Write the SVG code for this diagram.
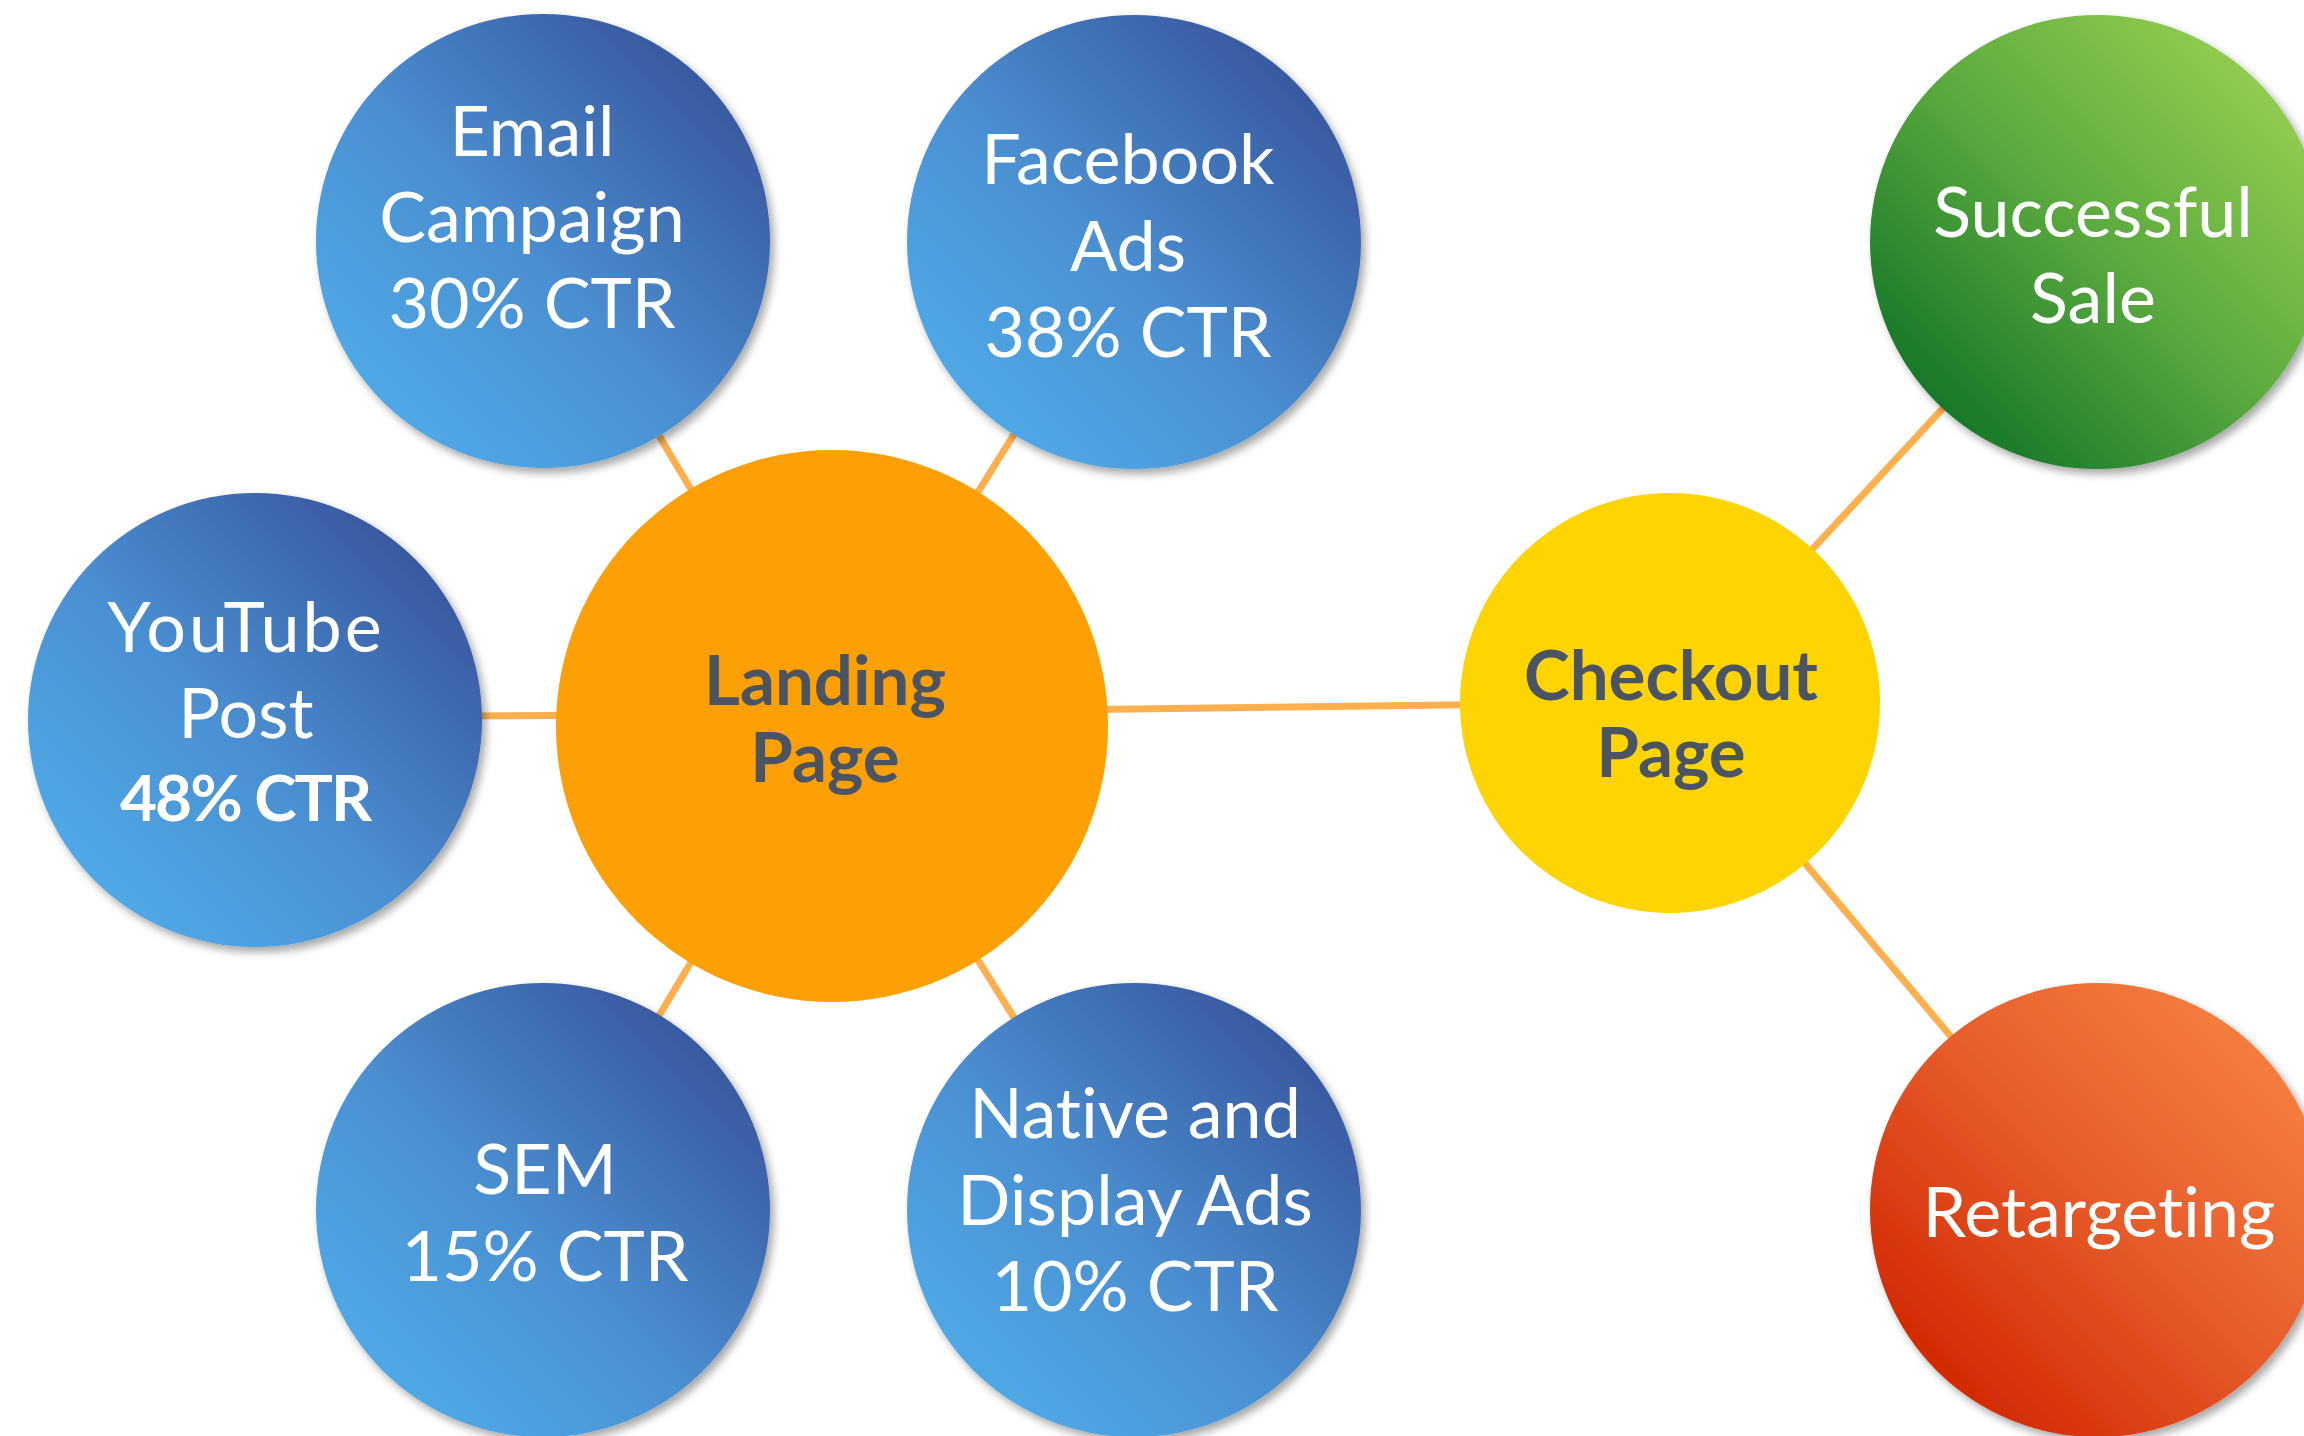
<svg xmlns="http://www.w3.org/2000/svg" width="2304" height="1436" viewBox="0 0 2304 1436">
  <style>
    text { font-variant-ligatures: none; }
    .lbl { font-family: Lato, "Liberation Sans", sans-serif; font-size: 70px; fill: #ffffff; text-anchor: middle; }
    .strong { font-weight: bold; font-size: 64px; letter-spacing: -2px; }
    .wide { letter-spacing: 3px; }
    .hub { font-family: Lato, "Liberation Sans", sans-serif; font-size: 69px; font-weight: bold; fill: #4a5462; text-anchor: middle; }
    .link { stroke: #ffb04e; stroke-width: 7; fill: none; }
  </style>
  <defs>
    <linearGradient id="gBlue" x1="0.15" y1="0.85" x2="0.85" y2="0.15">
      <stop offset="0" stop-color="#50a8e6"/>
      <stop offset="0.45" stop-color="#4a8fd1"/>
      <stop offset="1" stop-color="#395aa1"/>
    </linearGradient>
    <linearGradient id="gGreen" x1="0.15" y1="0.85" x2="0.85" y2="0.15">
      <stop offset="0" stop-color="#18792a"/>
      <stop offset="0.5" stop-color="#5aa93e"/>
      <stop offset="1" stop-color="#8fcb4f"/>
    </linearGradient>
    <linearGradient id="gRed" x1="0.15" y1="0.85" x2="0.85" y2="0.15">
      <stop offset="0" stop-color="#d32a04"/>
      <stop offset="0.5" stop-color="#e65a2a"/>
      <stop offset="1" stop-color="#f47c3e"/>
    </linearGradient>
    <filter id="shadow" x="-10%" y="-10%" width="125%" height="125%">
      <feDropShadow dx="4" dy="5" stdDeviation="4" flood-color="#000000" flood-opacity="0.35"/>
    </filter>
  </defs>

  <rect width="2304" height="1436" fill="#ffffff"/>

  <!-- connectors -->
  <g id="connectors">
    <line class="link" x1="543" y1="241" x2="832" y2="726"/>
    <line class="link" x1="1134" y1="242" x2="832" y2="726"/>
    <line class="link" x1="255" y1="717" x2="832" y2="714"/>
    <line class="link" x1="543" y1="1210" x2="832" y2="726"/>
    <line class="link" x1="1134" y1="1210" x2="832" y2="726"/>
    <line class="link" x1="832" y1="713" x2="1670" y2="702"/>
    <line class="link" x1="1670" y1="703" x2="2097" y2="242"/>
    <line class="link" x1="1670" y1="703" x2="2097" y2="1210"/>
  </g>

  <!-- source channels -->
  <g id="email">
    <circle cx="543" cy="241" r="227" fill="url(#gBlue)" filter="url(#shadow)"/>
    <text class="lbl" x="532" y="156">Email</text>
    <text class="lbl" x="532" y="242">Campaign</text>
    <text class="lbl" x="532" y="328">30% CTR</text>
  </g>
  <g id="facebook">
    <circle cx="1134" cy="242" r="227" fill="url(#gBlue)" filter="url(#shadow)"/>
    <text class="lbl" x="1128" y="184">Facebook</text>
    <text class="lbl" x="1128" y="271">Ads</text>
    <text class="lbl" x="1128" y="357">38% CTR</text>
  </g>
  <g id="youtube">
    <circle cx="255" cy="720" r="227" fill="url(#gBlue)" filter="url(#shadow)"/>
    <text class="lbl wide" x="246" y="652">YouTube</text>
    <text class="lbl" x="246" y="738">Post</text>
    <text class="lbl strong" x="245" y="821">48% CTR</text>
  </g>
  <g id="sem">
    <circle cx="543" cy="1210" r="227" fill="url(#gBlue)" filter="url(#shadow)"/>
    <text class="lbl" x="545" y="1194">SEM</text>
    <text class="lbl" x="545" y="1281">15% CTR</text>
  </g>
  <g id="native">
    <circle cx="1134" cy="1210" r="227" fill="url(#gBlue)" filter="url(#shadow)"/>
    <text class="lbl" x="1135" y="1138">Native and</text>
    <text class="lbl" x="1135" y="1225">Display Ads</text>
    <text class="lbl" x="1135" y="1311">10% CTR</text>
  </g>

  <!-- hubs -->
  <g id="landing">
    <circle cx="832" cy="726" r="276" fill="#fda005"/>
    <text class="hub" x="825" y="705">Landing</text>
    <text class="hub" x="825" y="782">Page</text>
  </g>
  <g id="checkout">
    <circle cx="1670" cy="703" r="210" fill="#fed403"/>
    <text class="hub" x="1671" y="700">Checkout</text>
    <text class="hub" x="1671" y="777">Page</text>
  </g>

  <!-- outcomes -->
  <g id="sale">
    <circle cx="2097" cy="242" r="227" fill="url(#gGreen)" filter="url(#shadow)"/>
    <text class="lbl" x="2093" y="237">Successful</text>
    <text class="lbl" x="2093" y="323">Sale</text>
  </g>
  <g id="retargeting">
    <circle cx="2097" cy="1210" r="227" fill="url(#gRed)" filter="url(#shadow)"/>
    <text class="lbl" x="2099" y="1237">Retargeting</text>
  </g>
</svg>
